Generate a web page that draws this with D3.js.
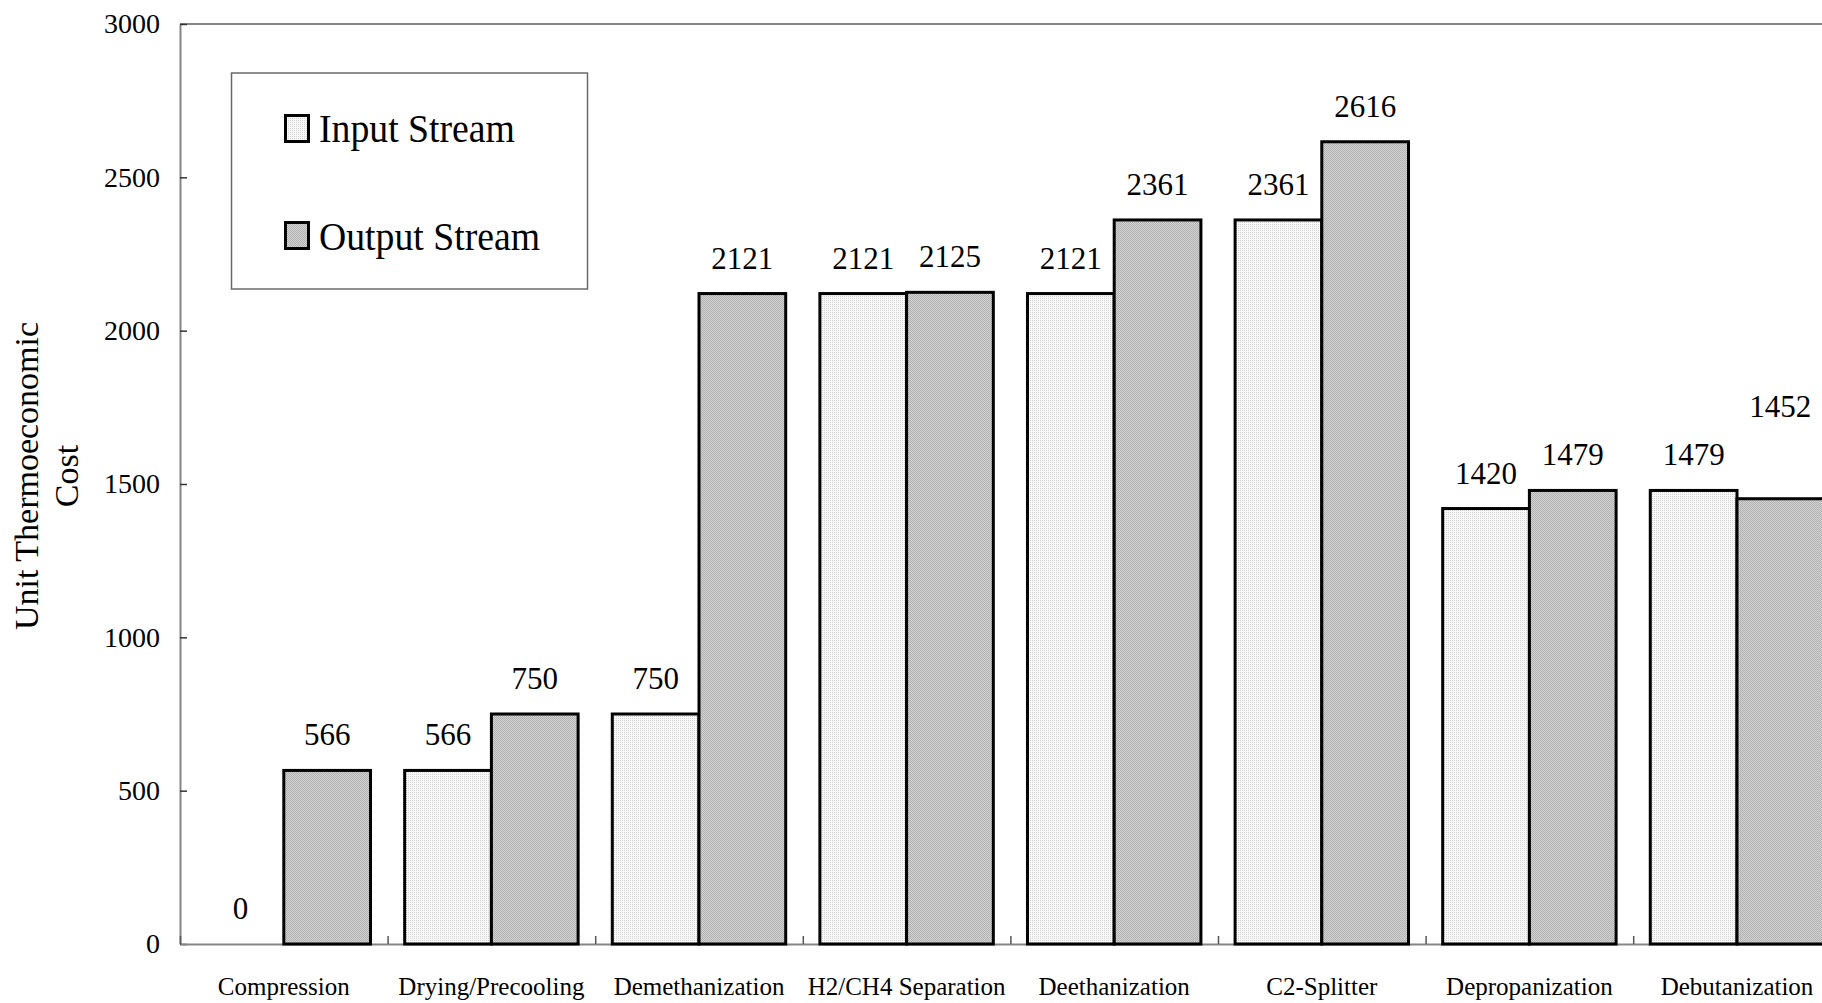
<!DOCTYPE html>
<html><head><meta charset="utf-8">
<script src="https://cdn.jsdelivr.net/npm/d3@7"></script>
<style>
body{margin:0;background:#fff}
svg{display:block}
text{font-family:"Liberation Serif","Times New Roman",serif;fill:#000}
</style>
</head><body>
<svg id="c" width="1822" height="1003"></svg>
<script>
const categories = ["Compression","Drying/Precooling","Demethanization","H2/CH4 Separation","Deethanization","C2-Splitter","Depropanization","Debutanization"];
const inputValues = [0,566,750,2121,2121,2361,1420,1479];
const outputValues = [566,750,2121,2125,2361,2616,1479,1452];
const seriesNames = ["Input Stream","Output Stream"];
const yTickValues = [0,500,1000,1500,2000,2500,3000];
const yTitleLines = ["Unit Thermoeconomic","Cost"];

(function(){
const svg = d3.select("#c");
const mL = 180, mR = 180 + 8 * 207.6, mT = 24, mB = 944;

const x0 = d3.scaleBand().domain(categories).range([mL, mR]).padding(0);
const x1 = d3.scaleBand().domain(seriesNames).range([0, x0.bandwidth()]).paddingInner(0).paddingOuter(0.197);
const y = d3.scaleLinear().domain([0, 3000]).range([mB, mT]);
const xIdx = d3.scaleLinear().domain([0, categories.length]).range([mL, mR]);

// patterns
const defs = svg.append("defs");
const pIn = defs.append("pattern").attr("id","pIn").attr("patternUnits","userSpaceOnUse").attr("width",2).attr("height",2);
pIn.append("rect").attr("width",2).attr("height",2).attr("fill","#f9f9f9");
pIn.append("rect").attr("width",1).attr("height",1).attr("fill","#d2d2d2");
const pOut = defs.append("pattern").attr("id","pOut").attr("patternUnits","userSpaceOnUse").attr("width",2).attr("height",2);
pOut.append("rect").attr("width",2).attr("height",2).attr("fill","#d3d3d3");
pOut.append("rect").attr("width",1).attr("height",1).attr("fill","#b0b0b0");
pOut.append("rect").attr("x",1).attr("y",1).attr("width",1).attr("height",1).attr("fill","#b0b0b0");
const fills = {"Input Stream":"url(#pIn)","Output Stream":"url(#pOut)"};

// top border
svg.append("line").attr("x1",mL).attr("x2",mR).attr("y1",mT).attr("y2",mT)
  .attr("stroke","#858585").attr("stroke-width",2);

// y axis
const gy = svg.append("g").attr("transform",`translate(${mL},0)`)
  .call(d3.axisLeft(y).tickValues(yTickValues).tickFormat(d3.format("d")).tickSizeInner(-7).tickSizeOuter(0).tickPadding(20));
gy.attr("font-family",null);
gy.select(".domain").attr("stroke","#858585").attr("stroke-width",2);
gy.selectAll(".tick line").attr("stroke","#333").attr("stroke-width",1.5);
gy.selectAll(".tick text").style("font-size","28px");

// x axis boundary ticks
const gxt = svg.append("g").attr("transform",`translate(0,${mB})`)
  .call(d3.axisBottom(xIdx).tickValues(d3.range(0, categories.length + 1)).tickSizeInner(-8).tickSizeOuter(0).tickFormat(""));
gxt.select(".domain").attr("stroke","#858585").attr("stroke-width",2);
gxt.selectAll(".tick line").attr("stroke","#555").attr("stroke-width",1.5);

// x axis labels
const gx = svg.append("g").attr("transform",`translate(0,${mB})`)
  .call(d3.axisBottom(x0).tickSize(0).tickPadding(33));
gx.attr("font-family",null);
gx.select(".domain").remove();
gx.selectAll(".tick text").style("font-size","25px");

// bars
const rows = [];
categories.forEach((c, i) => {
  rows.push({cat:c, i, s:"Input Stream", v:inputValues[i]});
  rows.push({cat:c, i, s:"Output Stream", v:outputValues[i]});
});
svg.append("g").selectAll("rect").data(rows.filter(d => d.v > 0)).join("rect")
  .attr("x", d => x0(d.cat) + x1(d.s))
  .attr("y", d => y(d.v))
  .attr("width", x1.bandwidth())
  .attr("height", d => y(0) - y(d.v))
  .attr("fill", d => fills[d.s])
  .attr("stroke", "#000").attr("stroke-width", 3);

// value labels
const lift = d => (d.s === "Output Stream" && d.i === categories.length - 1) ? 82 : 25;
svg.append("g").selectAll("text").data(rows).join("text")
  .attr("x", d => x0(d.cat) + x1(d.s) + x1.bandwidth() / 2)
  .attr("y", d => y(d.v) - lift(d))
  .attr("text-anchor","middle")
  .style("font-size","31px")
  .text(d => d.v);

// y title
const yt = svg.append("text").attr("transform",`translate(38,476) rotate(-90)`)
  .attr("text-anchor","middle").style("font-size","34px");
yTitleLines.forEach((t, k) => {
  yt.append("tspan").attr("x",0).attr("y", k * 40).text(t);
});

// legend
const lg = svg.append("g");
lg.append("rect").attr("x",231.5).attr("y",73).attr("width",356).attr("height",216)
  .attr("fill","#fff").attr("stroke","#6a6a6a").attr("stroke-width",1.5);
seriesNames.forEach((s, k) => {
  const yy = 115.5 + k * 107;
  lg.append("rect").attr("x",285.5).attr("y",yy).attr("width",23).attr("height",26)
    .attr("fill",fills[s]).attr("stroke","#000").attr("stroke-width",3);
  lg.append("text").attr("x",319).attr("y",142 + k * 108).style("font-size","41px").text(s)
    .each(function(){
      const L = this.getComputedTextLength();
      d3.select(this).attr("textLength", L * 0.92).attr("lengthAdjust","spacingAndGlyphs");
    });
});
})();
</script>
</body></html>
